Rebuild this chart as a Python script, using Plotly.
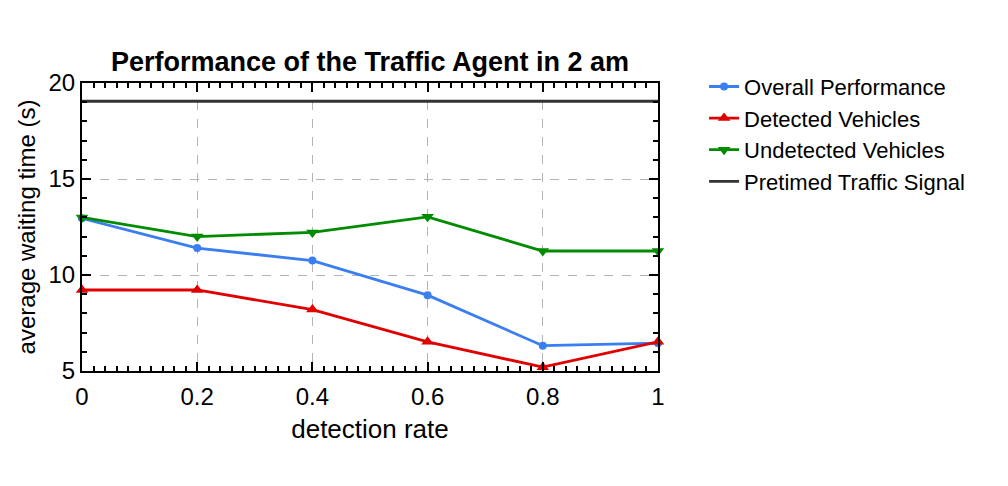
import plotly.graph_objects as go

# detection rate on the x axis
detection_rate = [0, 0.2, 0.4, 0.6, 0.8, 1]

# average waiting time (s)
overall = [12.95, 11.4, 10.75, 8.95, 6.32, 6.45]
detected = [9.22, 9.22, 8.2, 6.52, 5.2, 6.52]
undetected = [13.0, 12.0, 12.22, 13.03, 11.25, 11.25]
pretimed = [19.05, 19.05, 19.05, 19.05, 19.05, 19.05]

FONT = "Liberation Sans, Arial, sans-serif"

series = [
    ("Overall Performance", overall, "#3a7ef0", "circle", 8),
    ("Detected Vehicles", detected, "#e00000", "triangle-up", 11),
    ("Undetected Vehicles", undetected, "#008c00", "triangle-down", 11),
]

fig = go.Figure()
for name, values, color, symbol, size in series:
    fig.add_trace(
        go.Scatter(
            x=detection_rate,
            y=values,
            name=name,
            mode="lines+markers",
            line={"color": color, "width": 2.8},
            marker={"color": color, "symbol": symbol, "size": size},
            cliponaxis=False,
        )
    )

fig.add_trace(
    go.Scatter(
        x=detection_rate,
        y=pretimed,
        name="Pretimed Traffic Signal",
        mode="lines",
        line={"color": "#333333", "width": 2.8},
    )
)

axis_common = dict(
    showline=True,
    linecolor="black",
    linewidth=2,
    mirror="allticks",
    ticks="inside",
    ticklen=9,
    tickwidth=1.5,
    tickcolor="black",
    showgrid=True,
    gridcolor="#b4b4b4",
    griddash="dash",
    gridwidth=1.2,
    zeroline=False,
    tickfont={"family": FONT, "size": 24, "color": "black"},
)

fig.update_xaxes(
    range=[0, 1],
    tickvals=[0, 0.2, 0.4, 0.6, 0.8, 1],
    ticktext=["0", "0.2", "0.4", "0.6", "0.8", "1"],
    ticklabelstandoff=3,
    minor={"dtick": 0.02, "ticks": "inside", "ticklen": 5, "tickcolor": "black", "showgrid": False},
    title={"text": "detection rate", "font": {"family": FONT, "size": 26, "color": "black"}, "standoff": 11},
    **axis_common,
)
fig.update_yaxes(
    range=[5, 20],
    tickvals=[5, 10, 15, 20],
    minor={"dtick": 1, "ticks": "inside", "ticklen": 5, "tickcolor": "black", "showgrid": False},
    title={"text": "average waiting time (s)", "font": {"family": FONT, "size": 24, "color": "black"}, "standoff": 6},
    **axis_common,
)

# page body adds an 8px offset, so the figure is drawn slightly smaller
fig.update_layout(
    width=1000,
    height=478,
    margin={"l": 74, "r": 350, "t": 75, "b": 115},
    paper_bgcolor="white",
    plot_bgcolor="white",
    font={"family": FONT, "size": 22, "color": "black"},
    title={
        "text": "<b>Performance of the Traffic Agent in 2 am</b>",
        "x": 0.5,
        "xref": "paper",
        "xanchor": "center",
        "y": 1 - 54 / 478,
        "yref": "container",
        "yanchor": "middle",
        "font": {"family": FONT, "size": 27, "color": "black"},
    },
    legend={
        "x": 1.08,
        "y": 1.06,
        "xanchor": "left",
        "yanchor": "top",
        "bgcolor": "rgba(0,0,0,0)",
        "font": {"family": FONT, "size": 22, "color": "black"},
        "itemwidth": 30,
    },
)

fig.write_html("out.html")
